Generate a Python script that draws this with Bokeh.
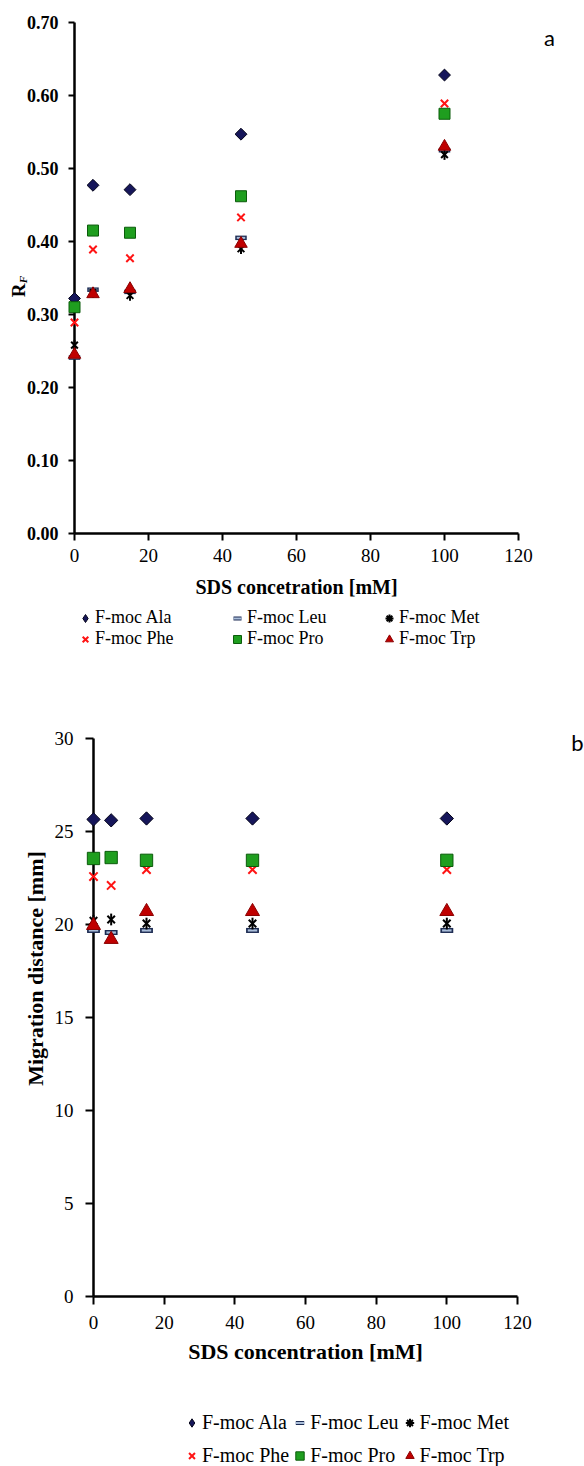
import numpy as np
from bokeh.plotting import figure
from bokeh.models import Range1d, FixedTicker, NumeralTickFormatter, Legend, LegendItem
from bokeh.core.properties import value
from bokeh.embed import file_html
from bokeh.resources import INLINE

# SDS concentration levels (mM)
sds_mM = [0, 5, 15, 45, 100]

series_labels = ["F-moc Ala", "F-moc Leu", "F-moc Met", "F-moc Phe", "F-moc Pro", "F-moc Trp"]

# Retardation factor R_F
rf_ala = [0.322, 0.477, 0.471, 0.547, 0.628]
rf_leu = [0.241, 0.334, 0.331, 0.405, 0.525]
rf_met = [0.258, 0.330, 0.326, 0.390, 0.519]
rf_phe = [0.289, 0.389, 0.377, 0.433, 0.589]
rf_pro = [0.310, 0.415, 0.412, 0.462, 0.575]
rf_trp = [0.245, 0.328, 0.335, 0.397, 0.530]

# Migration distance (mm)
mig_ala = [25.65, 25.6, 25.7, 25.7, 25.7]
mig_leu = [19.68, 19.57, 19.68, 19.68, 19.68]
mig_met = [20.2, 20.27, 20.05, 20.05, 20.05]
mig_phe = [22.58, 22.1, 22.95, 22.95, 22.95]
mig_pro = [23.55, 23.6, 23.45, 23.45, 23.45]
mig_trp = [19.95, 19.2, 20.7, 20.7, 20.7]

x_ticks = [0, 20, 40, 60, 80, 100, 120]
rf_ticks = [0.0, 0.1, 0.2, 0.3, 0.4, 0.5, 0.6, 0.7]
mig_ticks = [0, 5, 10, 15, 20, 25, 30]

SERIF = "Liberation Serif"
NAVY = "#16165a"
NAVY_EDGE = "#05051a"
LEU_EDGE = "#1c2b52"
LEU_FILL = "#a9bdd9"
PHE_RED = "#ff1414"
PRO_GREEN = "#1f9e1f"
PRO_EDGE = "#0b5c0b"
TRP_RED = "#c00000"
TRP_EDGE = "#8a0000"


def chart_figure(height, y_range, left, right, top, bottom):
    p = figure(width=584, height=height, x_range=Range1d(x_ticks[0], x_ticks[-1]),
               y_range=y_range, output_backend="svg", toolbar_location=None,
               min_border_left=left, min_border_right=right,
               min_border_top=top, min_border_bottom=bottom)
    p.outline_line_color = None
    p.grid.visible = False
    for ax in (p.xaxis, p.yaxis):
        ax.axis_line_width = 2.5
        ax.axis_line_color = "black"
        ax.major_tick_line_width = 2
        ax.major_tick_line_color = "black"
        ax.major_tick_in = 0
        ax.minor_tick_line_color = None
        ax.major_label_text_font = SERIF
        ax.major_label_text_color = "black"
        ax.axis_label_text_font = SERIF
        ax.axis_label_text_font_style = "bold"
        ax.axis_label_text_color = "black"
    p.xaxis.ticker = FixedTicker(ticks=x_ticks)
    return p


def draw_series(p, ys, k):
    """Plot the six derivatives above the frame edge; k scales marker sizes."""
    kw = dict(level="overlay")
    p.scatter(sds_mM, ys[0], marker="square", angle=np.pi / 4, size=8.4 * k,
              fill_color=NAVY, line_color=NAVY_EDGE, line_width=1, **kw)
    p.scatter(sds_mM, ys[1], marker="dash", size=11.5 * k, line_color=LEU_EDGE,
              line_width=4.5 * k, **kw)
    p.scatter(sds_mM, ys[1], marker="dash", size=8.5 * k, line_color=LEU_FILL,
              line_width=2 * k, **kw)
    p.scatter(sds_mM, ys[2], marker="x", size=9.5 * k, line_color="black", line_width=2, **kw)
    p.scatter(sds_mM, ys[2], marker="dash", angle=np.pi / 2, size=10.5 * k,
              line_color="black", line_width=2, **kw)
    p.scatter(sds_mM, ys[3], marker="x", size=10.5 * k, line_color=PHE_RED, line_width=2, **kw)
    p.scatter(sds_mM, ys[4], marker="square", size=11 * k, fill_color=PRO_GREEN,
              line_color=PRO_EDGE, line_width=1, **kw)
    p.scatter(sds_mM, ys[5], marker="triangle", size=12.5 * k, fill_color=TRP_RED,
              line_color=TRP_EDGE, line_width=1, **kw)


def legend_strip(height, ys, loc, font_size, glyph_w, glyph_h, label_w, label_h, lw):
    """A plain strip holding the key: one entry per derivative, three per row."""
    f = figure(width=584, height=height, x_range=Range1d(0, 1), y_range=Range1d(0, 1),
               output_backend="svg", toolbar_location=None, x_axis_type=None,
               y_axis_type=None, min_border=0)
    f.outline_line_color = None
    f.grid.visible = False
    hid = dict(visible=False)
    keys = [
        [f.scatter(sds_mM, ys[0], marker="diamond", fill_color=NAVY, line_color=NAVY_EDGE,
                   line_width=1, **hid)],
        [f.scatter(sds_mM, ys[1], marker="dash", line_color=LEU_EDGE, line_width=lw + 2, **hid),
         f.scatter(sds_mM, ys[1], marker="dash", line_color=LEU_FILL, line_width=lw, **hid)],
        [f.scatter(sds_mM, ys[2], marker="asterisk", line_color="black", line_width=lw, **hid)],
        [f.scatter(sds_mM, ys[3], marker="x", line_color=PHE_RED, line_width=lw, **hid)],
        [f.scatter(sds_mM, ys[4], marker="square", fill_color=PRO_GREEN, line_color=PRO_EDGE,
                   line_width=1, **hid)],
        [f.scatter(sds_mM, ys[5], marker="triangle", fill_color=TRP_RED, line_color=TRP_EDGE,
                   line_width=1, **hid)],
    ]
    items = [LegendItem(label=lab, renderers=rs) for lab, rs in zip(series_labels, keys)]
    leg = Legend(items=items, location=loc, orientation="horizontal", ncols=3,
                 border_line_color=None, background_fill_alpha=0, padding=0, margin=0,
                 spacing=0, glyph_width=glyph_w, glyph_height=glyph_h,
                 label_standoff=0, label_width=label_w, label_height=label_h,
                 label_text_font=SERIF, label_text_font_size=font_size,
                 label_text_color="black")
    f.add_layout(leg)
    return f


def add_text(p, x, y, text, dx, dy, size, font=SERIF, style="bold", angle=0.0):
    p.text(x=[x], y=[y], text=[text], x_offset=dx, y_offset=dy, angle=angle,
           text_font=value(font), text_font_style=value(style), text_font_size=value(size),
           text_align="center", text_baseline="middle", text_color="black", level="overlay")


rf_series = [rf_ala, rf_leu, rf_met, rf_phe, rf_pro, rf_trp]
mig_series = [mig_ala, mig_leu, mig_met, mig_phe, mig_pro, mig_trp]

# ---- panel a: R_F versus SDS concentration ----
pa = chart_figure(604, Range1d(rf_ticks[0], rf_ticks[-1]), 74, 66, 22, 71)
pa.yaxis.ticker = FixedTicker(ticks=rf_ticks)
pa.yaxis.formatter = NumeralTickFormatter(format="0.00")
pa.yaxis.major_label_text_font_style = "bold"
pa.yaxis.major_label_text_font_size = "18px"
pa.yaxis.major_tick_out = 6
pa.yaxis.major_label_standoff = 10
pa.xaxis.major_label_text_font_size = "19px"
pa.xaxis.major_tick_out = 7
pa.xaxis.major_label_standoff = 8
pa.xaxis.axis_label = "SDS concetration [mM]"
pa.xaxis.axis_label_text_font_size = "20px"
pa.xaxis.axis_label_standoff = 11
draw_series(pa, rf_series, 1.0)

rf_mid = (rf_ticks[0] + rf_ticks[-1]) / 2
add_text(pa, x_ticks[0], rf_mid, "R", -56.5, 12.5, "19px", angle=np.pi / 2)
add_text(pa, x_ticks[0], rf_mid, "F", -52, 1.5, "11px", style="bold italic", angle=np.pi / 2)
add_text(pa, x_ticks[-1], rf_ticks[-1], "a", 31, 15, "22px", font="Lato", style="normal")

key_a = legend_strip(86, rf_series, (75, 41), "18px", 20, 20, 132, 20, 2)

# ---- panel b: migration distance versus SDS concentration ----
pb = chart_figure(685, Range1d(mig_ticks[0], mig_ticks[-1]), 93, 67, 48, 79)
pb.yaxis.ticker = FixedTicker(ticks=mig_ticks)
pb.yaxis.major_label_text_font_size = "19px"
pb.yaxis.major_tick_out = 8
pb.yaxis.major_label_standoff = 12
pb.xaxis.major_label_text_font_size = "19px"
pb.xaxis.major_tick_out = 8
pb.xaxis.major_label_standoff = 11
pb.xaxis.axis_label = "SDS concentration [mM]"
pb.xaxis.axis_label_text_font_size = "22px"
pb.xaxis.axis_label_standoff = 7
draw_series(pb, mig_series, 1.12)

add_text(pb, x_ticks[0], mig_ticks[3], "Migration distance [mm]", -58, -49, "22px",
         angle=np.pi / 2)
add_text(pb, x_ticks[-1], mig_ticks[-1], "b", 60, 4, "22px", font="Lato", style="normal")

key_b = legend_strip(91, mig_series, (181, -6), "20px", 21, 33, 87, 33, 2)

# the four blocks are stacked as separate roots so each keeps its own frame
open("out.html", "w").write(file_html([pa, key_a, pb, key_b], INLINE))
